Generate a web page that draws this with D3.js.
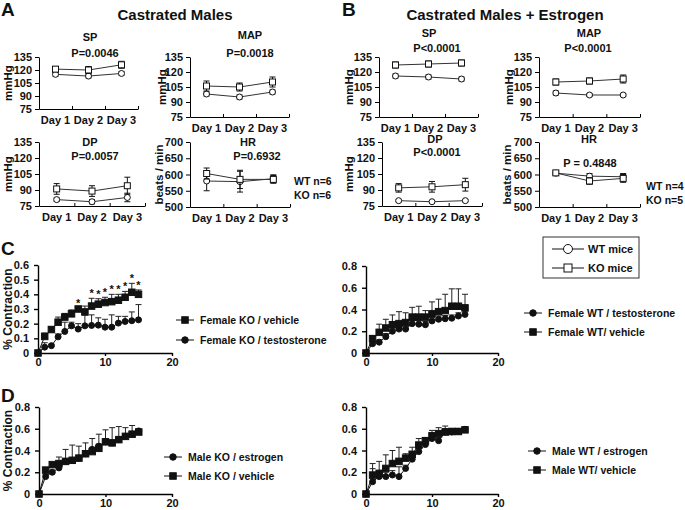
<!DOCTYPE html>
<html>
<head>
<meta charset="utf-8">
<script src="https://cdn.jsdelivr.net/npm/d3@7"></script>
<style>
body { margin: 0; background: #fff; }
text { font-family: "Liberation Sans", Arial, sans-serif; font-weight: bold; fill: #111; }
</style>
</head>
<body>
<script>
// ---- blood pressure / heart rate (panels A, B) ----
var days = ['Day 1', 'Day 2', 'Day 3'];
var bpTicks = [75, 90, 105, 120, 135];
var hrTicks = [500, 550, 600, 650, 700];

// A: castrated males
var aSpKO = [121, 120, 126], aSpKOErr = [3, 4, 4];
var aSpWT = [115, 113, 116], aSpWTErr = [2, 2, 2];
var aMapKO = [106, 105, 110], aMapKOErr = [5, 4, 5];
var aMapWT = [98, 95, 100], aMapWTErr = [2, 2, 2];
var aDpKO = [91, 89, 94], aDpKOErr = [5, 5, 8];
var aDpWT = [81, 79, 83], aDpWTErr = [1.5, 2, 4];
var aHrKO = [603, 585, 585], aHrKOErr = [17, 28, 12];
var aHrWT = [580, 578, 587], aHrWTErr = [30, 32, 12];

// B: castrated males + estrogen
var bSpKO = [127, 128, 129], bSpKOErr = [3, 3, 3];
var bSpWT = [116, 115, 113], bSpWTErr = [2, 2, 2];
var bMapKO = [110, 111, 113], bMapKOErr = [3, 3, 4];
var bMapWT = [99, 97, 97], bMapWTErr = [2, 1.5, 1.5];
var bDpKO = [92, 93, 95], bDpKOErr = [4, 5, 6];
var bDpWT = [80, 79, 80], bDpWTErr = [1, 1, 1];
var bHrKO = [605, 580, 588], bHrKOErr = [6, 10, 12];
var bHrWT = [604, 595, 593], bHrWTErr = [6, 8, 10];

// ---- contraction time courses (panels C, D) ----
var minutes = [0, 1, 2, 3, 4, 5, 6, 7, 8, 9, 10, 11, 12, 13, 14, 15];

var cKoVeh    = [0, 0.113, 0.16, 0.21, 0.245, 0.267, 0.30, 0.28, 0.32, 0.333, 0.344, 0.35, 0.36, 0.38, 0.414, 0.40];
var cKoVehErr = [0, 0.023, 0.016, 0.035, 0.025, 0.027, 0.005, 0.04, 0.053, 0.037, 0.036, 0.05, 0.04, 0.04, 0.061, 0.03];
var cKoTes    = [0, 0.04, 0.05, 0.11, 0.147, 0.185, 0.163, 0.185, 0.188, 0.19, 0.176, 0.176, 0.204, 0.215, 0.22, 0.226];
var cKoTesErr = [0, 0.03, 0.01, 0.02, 0.063, 0.025, 0.037, 0.075, 0.072, 0.05, 0.054, 0.084, 0.046, 0.035, 0.06, 0.104];
var cSigMinutes = [6, 8, 9, 10, 11, 12, 13, 14, 15];

var cWtTes    = [0, 0.086, 0.10, 0.15, 0.20, 0.22, 0.22, 0.27, 0.265, 0.26, 0.295, 0.31, 0.315, 0.32, 0.34, 0.355];
var cWtTesErr = [0, 0.02, 0.02, 0.03, 0.03, 0.03, 0.03, 0.03, 0.03, 0.03, 0.03, 0.03, 0.03, 0.03, 0.03, 0.03];
var cWtVeh    = [0, 0.132, 0.19, 0.23, 0.26, 0.27, 0.28, 0.33, 0.33, 0.33, 0.36, 0.38, 0.39, 0.43, 0.43, 0.415];
var cWtVehErr = [0, 0.028, 0.075, 0.08, 0.09, 0.11, 0.09, 0.09, 0.10, 0.06, 0.11, 0.115, 0.15, 0.16, 0.16, 0.125];

var dKoEst    = [0, 0.16, 0.20, 0.24, 0.30, 0.31, 0.33, 0.37, 0.41, 0.44, 0.48, 0.47, 0.50, 0.53, 0.55, 0.58];
var dKoEstErr = [0, 0.02, 0.02, 0.02, 0.02, 0.02, 0.02, 0.02, 0.02, 0.02, 0.02, 0.02, 0.02, 0.02, 0.02, 0.01];
var dKoVeh    = [0, 0.22, 0.27, 0.28, 0.30, 0.31, 0.33, 0.37, 0.39, 0.42, 0.48, 0.47, 0.50, 0.53, 0.55, 0.57];
var dKoVehErr = [0, 0.02, 0.02, 0.06, 0.11, 0.14, 0.11, 0.10, 0.12, 0.13, 0.11, 0.14, 0.12, 0.08, 0.08, 0.02];

var dWtEst    = [0, 0.113, 0.16, 0.16, 0.175, 0.16, 0.235, 0.32, 0.39, 0.455, 0.51, 0.49, 0.57, 0.57, 0.575, 0.595];
var dWtEstErr = [0, 0.12, 0.05, 0.04, 0.04, 0.09, 0.03, 0.03, 0.03, 0.03, 0.03, 0.03, 0.03, 0.02, 0.02, 0.01];
var dWtVeh    = [0, 0.174, 0.19, 0.235, 0.28, 0.30, 0.33, 0.365, 0.45, 0.49, 0.535, 0.555, 0.57, 0.575, 0.575, 0.59];
var dWtVehErr = [0, 0.106, 0.11, 0.125, 0.12, 0.13, 0.04, 0.065, 0.06, 0.03, 0.05, 0.055, 0.055, 0.025, 0.025, 0.01];

var FONT = '"Liberation Sans", Arial, sans-serif';

var svg = d3.select('body').append('svg')
	.attr('width', 685)
	.attr('height', 510);

// draws one marker, open (A/B) or filled (C/D)
function marker(g, shape, cx, cy, size, filled) {
	var fill = filled ? '#111' : '#fff';
	if (shape === 'circle') {
		g.append('circle').attr('cx', cx).attr('cy', cy).attr('r', size / 2)
			.attr('fill', fill).attr('stroke', '#111').attr('stroke-width', 1);
	} else {
		g.append('rect').attr('x', cx - size / 2).attr('y', cy - size / 2)
			.attr('width', size).attr('height', size)
			.attr('fill', fill).attr('stroke', '#111').attr('stroke-width', 1);
	}
}

function styleAxis(a, size) {
	a.attr('font-family', FONT).attr('font-size', size).attr('font-weight', 'bold');
	a.selectAll('text').attr('fill', '#111');
}

function label(x, y, txt, size, anchor, rotate) {
	var t = svg.append('text').attr('x', x).attr('y', y)
		.attr('font-size', size).attr('text-anchor', anchor || 'middle').text(txt);
	if (rotate) t.attr('transform', 'rotate(-90,' + x + ',' + y + ')');
	return t;
}

// ------------------------ SMALL DAY PLOTS (A, B) ------------------------
function miniPlot(c) {
	var x = d3.scaleBand().domain(days).range([c.left, c.right]);
	var xt = d3.scaleLinear().domain([0, days.length]).range([c.left, c.right]);
	var y = d3.scaleLinear().domain([c.ticks[0], c.ticks[c.ticks.length - 1]]).range([c.bottom, c.top]);
	var g = svg.append('g');

	g.append('g').attr('transform', 'translate(' + c.left + ',0)')
		.call(d3.axisLeft(y).tickValues(c.ticks).tickSizeInner(4).tickSizeOuter(0).tickPadding(3))
		.call(styleAxis, 11);
	g.append('g').attr('transform', 'translate(0,' + c.bottom + ')')
		.call(d3.axisBottom(xt).tickValues([0, 1, 2, 3]).tickFormat('').tickSizeInner(-3).tickSizeOuter(0));
	g.append('g').attr('transform', 'translate(0,' + c.bottom + ')')
		.call(d3.axisBottom(x).tickSize(0).tickPadding(7))
		.call(styleAxis, 11)
		.call(function(a) { a.select('.domain').remove(); });

	var cx = function(i) { return x(days[i]) + x.bandwidth() / 2; };
	var series = [
		{ v: c.wt, e: c.wtErr, shape: 'circle' },
		{ v: c.ko, e: c.koErr, shape: 'square' }
	];
	var line = d3.line().x(function(d, i) { return cx(i); }).y(function(d) { return y(d); });

	series.forEach(function(s) {
		g.append('path').attr('d', line(s.v)).attr('fill', 'none')
			.attr('stroke', '#333').attr('stroke-width', 1);
		s.v.forEach(function(v, i) {
			var hi = y(v + s.e[i]), lo = y(v - s.e[i]);
			g.append('line').attr('x1', cx(i)).attr('x2', cx(i)).attr('y1', hi).attr('y2', lo)
				.attr('stroke', '#111').attr('stroke-width', 1);
			[hi, lo].forEach(function(yy) {
				g.append('line').attr('x1', cx(i) - 3).attr('x2', cx(i) + 3).attr('y1', yy).attr('y2', yy)
					.attr('stroke', '#111').attr('stroke-width', 1);
			});
		});
		s.v.forEach(function(v, i) { marker(g, s.shape, cx(i), y(v), 6, false); });
	});

	label(c.labelX, (c.top + c.bottom) / 2, c.ylabel, 11.5, 'middle', true);
	label(c.titleX, c.titleY, c.title, 11);
	label(c.pX, c.pY, c.p, 11);
}

miniPlot({ left: 39, right: 138, top: 57, bottom: 109, ticks: bpTicks, ko: aSpKO, koErr: aSpKOErr, wt: aSpWT, wtErr: aSpWTErr,
	ylabel: 'mmHg', labelX: 12, title: 'SP', titleX: 90, titleY: 41, p: 'P=0.0046', pX: 95, pY: 57 });
miniPlot({ left: 190, right: 289, top: 57, bottom: 117, ticks: bpTicks, ko: aMapKO, koErr: aMapKOErr, wt: aMapWT, wtErr: aMapWTErr,
	ylabel: 'mmHg', labelX: 166, title: 'MAP', titleX: 250, titleY: 39, p: 'P=0.0018', pX: 250, pY: 57 });
miniPlot({ left: 39, right: 145, top: 142, bottom: 206, ticks: bpTicks, ko: aDpKO, koErr: aDpKOErr, wt: aDpWT, wtErr: aDpWTErr,
	ylabel: 'mmHg', labelX: 12, title: 'DP', titleX: 90, titleY: 146, p: 'P=0.0057', pX: 95, pY: 160 });
miniPlot({ left: 190, right: 290, top: 142, bottom: 207, ticks: hrTicks, ko: aHrKO, koErr: aHrKOErr, wt: aHrWT, wtErr: aHrWTErr,
	ylabel: 'beats / min', labelX: 163, title: 'HR', titleX: 248, titleY: 146, p: 'P=0.6932', pX: 257, pY: 160 });

miniPlot({ left: 379, right: 478, top: 57, bottom: 117, ticks: bpTicks, ko: bSpKO, koErr: bSpKOErr, wt: bSpWT, wtErr: bSpWTErr,
	ylabel: 'mmHg', labelX: 353, title: 'SP', titleX: 429, titleY: 37, p: 'P<0.0001', pX: 437, pY: 52 });
miniPlot({ left: 539, right: 640, top: 57, bottom: 117, ticks: bpTicks, ko: bMapKO, koErr: bMapKOErr, wt: bMapWT, wtErr: bMapWTErr,
	ylabel: 'mmHg', labelX: 513, title: 'MAP', titleX: 589, titleY: 37, p: 'P<0.0001', pX: 588, pY: 52 });
miniPlot({ left: 382, right: 482, top: 142, bottom: 206, ticks: bpTicks, ko: bDpKO, koErr: bDpKOErr, wt: bDpWT, wtErr: bDpWTErr,
	ylabel: 'mmHg', labelX: 353, title: 'DP', titleX: 435, titleY: 143, p: 'P<0.0001', pX: 437, pY: 156 });
miniPlot({ left: 539, right: 640, top: 142, bottom: 207, ticks: hrTicks, ko: bHrKO, koErr: bHrKOErr, wt: bHrWT, wtErr: bHrWTErr,
	ylabel: 'beats / min', labelX: 511, title: 'HR', titleX: 589, titleY: 143, p: 'P = 0.4848', pX: 590, pY: 167 });

label(1, 16, 'A', 19, 'start');
label(175, 20, 'Castrated Males', 15);
label(342, 16, 'B', 19, 'start');
label(505, 20, 'Castrated Males + Estrogen', 15);

label(294, 185, 'WT n=6', 10.5, 'start');
label(294, 199, 'KO n=6', 10.5, 'start');
label(646, 190, 'WT n=4', 10.5, 'start');
label(646, 204, 'KO n=5', 10.5, 'start');

// legend box for A/B
var lg = svg.append('g');
lg.append('rect').attr('x', 543).attr('y', 237).attr('width', 96).attr('height', 41)
	.attr('fill', '#fff').attr('stroke', '#333').attr('stroke-width', 1);
[{ y: 249, shape: 'circle', txt: 'WT mice' }, { y: 268, shape: 'square', txt: 'KO mice' }].forEach(function(r) {
	lg.append('line').attr('x1', 552).attr('x2', 584).attr('y1', r.y).attr('y2', r.y).attr('stroke', '#111');
	marker(lg, r.shape, 568, r.y, r.shape === 'circle' ? 9 : 8, false);
	lg.append('text').attr('x', 588).attr('y', r.y + 4).attr('font-size', 11).text(r.txt);
});

// ------------------------ CONTRACTION PLOTS (C, D) ------------------------
function timePlot(c) {
	var x = d3.scaleLinear().domain([0, 20]).range([c.left, c.right]);
	var y = d3.scaleLinear().domain([0, c.ticks[c.ticks.length - 1]]).range([c.bottom, c.top]);
	var g = svg.append('g');

	g.append('g').attr('transform', 'translate(' + c.left + ',0)')
		.call(d3.axisLeft(y).tickValues(c.ticks).tickSizeInner(4).tickSizeOuter(0).tickPadding(5)
			.tickFormat(function(d) { return d === 0 ? '0' : d3.format('.1f')(d); }))
		.call(styleAxis, 11)
		.call(function(a) { a.selectAll('path,line').attr('stroke-width', 1.4); });
	g.append('g').attr('transform', 'translate(0,' + c.bottom + ')')
		.call(d3.axisBottom(x).tickValues([0, 10, 20]).tickSizeInner(3).tickSizeOuter(0).tickPadding(2))
		.call(styleAxis, 11)
		.call(function(a) { a.selectAll('path,line').attr('stroke-width', 1.4); });

	var line = d3.line().x(function(d, i) { return x(minutes[i]); }).y(function(d) { return y(d); });
	c.series.forEach(function(s) {
		g.append('path').attr('d', line(s.v)).attr('fill', 'none')
			.attr('stroke', '#111').attr('stroke-width', 1);
		s.v.forEach(function(v, i) {
			if (!s.e[i]) return;
			var top = y(v + s.e[i]);
			g.append('line').attr('x1', x(minutes[i])).attr('x2', x(minutes[i]))
				.attr('y1', y(v)).attr('y2', top).attr('stroke', '#222').attr('stroke-width', 1);
			g.append('line').attr('x1', x(minutes[i]) - 3).attr('x2', x(minutes[i]) + 3)
				.attr('y1', top).attr('y2', top).attr('stroke', '#222').attr('stroke-width', 1);
		});
	});
	c.series.forEach(function(s) {
		s.v.forEach(function(v, i) { marker(g, s.shape, x(minutes[i]), y(v), s.shape === 'circle' ? 6 : 6.5, true); });
	});

	if (c.stars) {
		var ko = c.series[0];
		c.stars.forEach(function(m) {
			var i = minutes.indexOf(m);
			g.append('text').attr('x', x(m)).attr('y', y(ko.v[i] + ko.e[i]) - 1)
				.attr('font-size', 11).attr('text-anchor', 'middle').text('*');
		});
	}

	// legend
	c.series.forEach(function(s) {
		var ly = s.legendY;
		g.append('line').attr('x1', c.legX - 9).attr('x2', c.legX + 9).attr('y1', ly).attr('y2', ly)
			.attr('stroke', '#111').attr('stroke-width', 1);
		marker(g, s.shape, c.legX, ly, 6.5, true);
		g.append('text').attr('x', c.legX + 15).attr('y', ly + 4).attr('font-size', 10.5).text(s.name);
	});

	if (c.ylabel) label(12, (c.top + c.bottom) / 2, c.ylabel, 12, 'middle', true);
}

var cTicksL = [0, 0.1, 0.2, 0.3, 0.4, 0.5, 0.6];
var ticks08 = [0, 0.2, 0.4, 0.6, 0.8];

timePlot({ left: 38, right: 172, top: 265, bottom: 353, ticks: cTicksL, ylabel: '% Contraction', legX: 185,
	stars: cSigMinutes,
	series: [
		{ v: cKoVeh, e: cKoVehErr, shape: 'square', name: 'Female KO / vehicle', legendY: 320 },
		{ v: cKoTes, e: cKoTesErr, shape: 'circle', name: 'Female KO / testosterone', legendY: 340 }
	] });
timePlot({ left: 366, right: 498, top: 266, bottom: 353, ticks: ticks08, legX: 533,
	series: [
		{ v: cWtTes, e: cWtTesErr, shape: 'circle', name: 'Female WT / testosterone', legendY: 313 },
		{ v: cWtVeh, e: cWtVehErr, shape: 'square', name: 'Female WT/ vehicle', legendY: 332 }
	] });
timePlot({ left: 39, right: 172, top: 407, bottom: 494, ticks: ticks08, ylabel: '% Contraction', legX: 173,
	series: [
		{ v: dKoEst, e: dKoEstErr, shape: 'circle', name: 'Male KO / estrogen', legendY: 457 },
		{ v: dKoVeh, e: dKoVehErr, shape: 'square', name: 'Male KO / vehicle', legendY: 476 }
	] });
timePlot({ left: 366, right: 498, top: 407, bottom: 494, ticks: ticks08, legX: 537,
	series: [
		{ v: dWtEst, e: dWtEstErr, shape: 'circle', name: 'Male WT / estrogen', legendY: 451 },
		{ v: dWtVeh, e: dWtVehErr, shape: 'square', name: 'Male WT/ vehicle', legendY: 470 }
	] });

label(1, 255, 'C', 19, 'start');
label(1, 402, 'D', 19, 'start');
</script>
</body>
</html>
